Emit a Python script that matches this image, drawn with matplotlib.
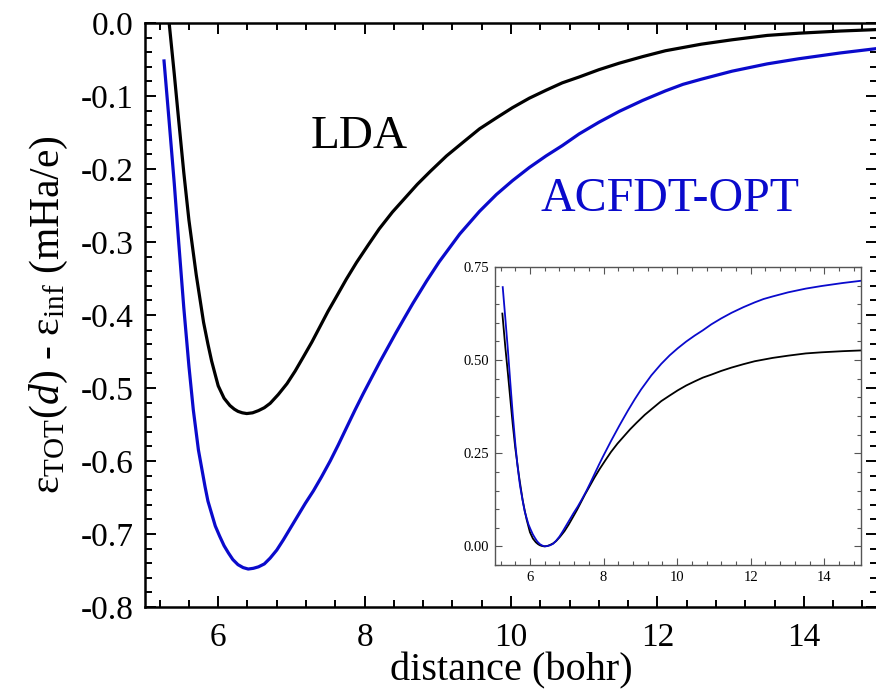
import numpy as np
import matplotlib
matplotlib.use('Agg')
import matplotlib.pyplot as plt
from matplotlib.ticker import MultipleLocator

# total energy per electron relative to the isolated limit (mHa/e)
dist_lda = [5.25, 5.33, 5.40, 5.46, 5.53, 5.60, 5.70, 5.80, 5.86, 5.91,
            5.96, 6.00, 6.08, 6.16, 6.22, 6.27, 6.33, 6.39, 6.47, 6.55,
            6.63, 6.71, 6.82, 6.94, 7.05, 7.16, 7.28, 7.39, 7.50, 7.62,
            7.75, 7.89, 8.05, 8.20, 8.38, 8.55, 8.72, 8.90, 9.12, 9.35,
            9.57, 9.80, 10.02, 10.25, 10.48, 10.70, 10.93, 11.20, 11.48, 11.80,
            12.11, 12.60, 13.02, 13.50, 13.93, 14.50, 15.00]
e_lda = [0.090, 0.000, -0.070, -0.133, -0.205, -0.270, -0.345, -0.410, -0.440, -0.463,
         -0.482, -0.497, -0.514, -0.524, -0.529, -0.532, -0.534, -0.535, -0.534, -0.531,
         -0.527, -0.521, -0.509, -0.494, -0.477, -0.458, -0.437, -0.416, -0.395, -0.374,
         -0.351, -0.328, -0.304, -0.282, -0.259, -0.240, -0.221, -0.203, -0.182, -0.163,
         -0.145, -0.130, -0.116, -0.103, -0.092, -0.082, -0.074, -0.064, -0.055, -0.046,
         -0.038, -0.029, -0.023, -0.017, -0.014, -0.011, -0.009]

dist_acf = [5.26, 5.33, 5.40, 5.46, 5.53, 5.60, 5.66, 5.73, 5.82, 5.86,
            5.91, 5.96, 6.02, 6.08, 6.14, 6.20, 6.27, 6.34, 6.41, 6.48,
            6.55, 6.63, 6.71, 6.80, 6.89, 6.98, 7.07, 7.19, 7.30, 7.41,
            7.53, 7.64, 7.75, 7.87, 7.98, 8.10, 8.21, 8.32, 8.43, 8.55,
            8.66, 8.85, 9.02, 9.30, 9.57, 9.80, 10.02, 10.25, 10.48, 10.70,
            10.93, 11.20, 11.48, 11.80, 12.11, 12.35, 12.60, 13.02, 13.50, 13.93,
            14.50, 15.00]
e_acf = [-0.052, -0.135, -0.220, -0.300, -0.390, -0.470, -0.530, -0.585, -0.635, -0.655,
         -0.672, -0.689, -0.703, -0.716, -0.726, -0.735, -0.742, -0.746, -0.748, -0.747,
         -0.745, -0.741, -0.733, -0.722, -0.708, -0.693, -0.678, -0.658, -0.641, -0.622,
         -0.600, -0.578, -0.555, -0.530, -0.508, -0.485, -0.464, -0.444, -0.424, -0.403,
         -0.384, -0.353, -0.327, -0.289, -0.258, -0.235, -0.216, -0.198, -0.182, -0.168,
         -0.152, -0.136, -0.121, -0.106, -0.093, -0.084, -0.077, -0.066, -0.056, -0.049,
         -0.041, -0.035]

blue = '#0a0acc'
serif = 'Liberation Serif'

plt.rcParams['font.family'] = serif
plt.rcParams['mathtext.fontset'] = 'custom'
plt.rcParams['mathtext.rm'] = serif
plt.rcParams['mathtext.it'] = serif + ':italic'

fig = plt.figure(figsize=(8.76, 6.99), dpi=100)

# main panel
ax = fig.add_axes([145 / 876, 92 / 699, 732 / 876, 584 / 699])
ax.plot(dist_lda, e_lda, color='black', lw=2.3)
ax.plot(dist_acf, e_acf, color=blue, lw=2.3)
ax.set_xlim(5.0, 15.0)
ax.set_ylim(-0.8, 0.0)
ax.xaxis.set_major_locator(MultipleLocator(2))
ax.xaxis.set_minor_locator(MultipleLocator(0.4))
ax.yaxis.set_major_locator(MultipleLocator(0.1))
ax.yaxis.set_minor_locator(MultipleLocator(0.02))
ax.yaxis.set_major_formatter(plt.FuncFormatter(lambda v, p: '%.1f' % v if abs(v) > 1e-9 else '0.0'))
ax.tick_params(which='both', direction='in', top=True, right=True, width=1.4)
ax.tick_params(which='major', length=8)
ax.tick_params(which='minor', length=5)
ax.tick_params(axis='x', labelsize=24, pad=11)
ax.tick_params(axis='y', labelsize=24, pad=8)
for sp in ax.spines.values():
    sp.set_linewidth(1.8)
ax.set_xlabel('distance (bohr)', fontsize=29, labelpad=0)
ax.set_ylabel(r'$\mathrm{ε}_{\mathrm{TOT}}(d)$ - $\mathrm{ε}_{\mathrm{inf}}$ (mHa/e)', fontsize=30, labelpad=8)

ax.text(7.93, -0.156, 'LDA', fontsize=34, color='black', ha='center', va='center')
ax.text(12.17, -0.241, 'ACFDT-OPT', fontsize=34.5, color=blue, ha='center', va='center')

# inset: curves shifted so that each minimum sits at zero
ins = fig.add_axes([495 / 876, 134 / 699, 366 / 876, 298 / 699])
ins.plot(dist_lda, np.array(e_lda) - min(e_lda), color='black', lw=1.3)
ins.plot(dist_acf, np.array(e_acf) - min(e_acf), color=blue, lw=1.3)
ins.set_xlim(5.05, 15.0)
ins.set_ylim(-0.05, 0.75)
ins.xaxis.set_major_locator(MultipleLocator(2))
ins.xaxis.set_minor_locator(MultipleLocator(0.4))
ins.yaxis.set_major_locator(MultipleLocator(0.25))
ins.yaxis.set_minor_locator(MultipleLocator(0.05))
ins.yaxis.set_major_formatter(plt.FuncFormatter(lambda v, p: '%.2f' % v))
ins.tick_params(which='both', direction='in', top=True, right=True, width=0.8,
                color='#555555', labelsize=10.5, pad=4)
ins.tick_params(which='major', length=5)
ins.tick_params(which='minor', length=3)
for sp in ins.spines.values():
    sp.set_linewidth(1.0)
    sp.set_color('#555555')

fig.savefig('out.png', dpi=100)
